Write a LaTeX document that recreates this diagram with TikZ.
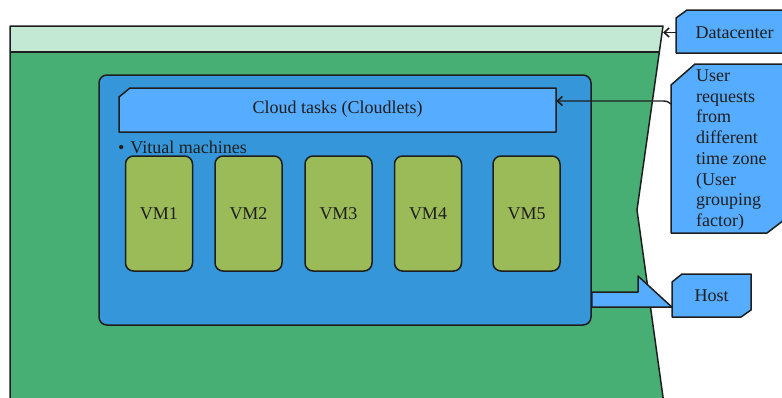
\documentclass[tikz,border=0pt]{standalone}
\usepackage{fontspec}
\setmainfont{Liberation Serif}
\usetikzlibrary{calc,arrows.meta}
\definecolor{dcgreen}{RGB}{71,175,116}
\definecolor{dclight}{RGB}{195,232,212}
\definecolor{hostblue}{RGB}{53,151,217}
\definecolor{lightblue}{RGB}{86,172,255}
\definecolor{vmgreen}{RGB}{155,187,89}
\definecolor{ink}{RGB}{30,30,30}
\begin{document}
\begin{tikzpicture}[x=1pt,y=-1pt,
  outline/.style={draw=ink, line width=1.5pt, line join=round},
  txt/.style={font=\fontsize{18}{20.7}\selectfont, text=ink},
  boxnode/.style={rectangle, inner sep=0pt, txt},
  vmbox/.style={boxnode, outline, fill=vmgreen, rounded corners=8pt, minimum width=67pt, minimum height=115pt},
  arr/.style={draw=ink, line width=1.4pt, -{Straight Barb[length=5pt,width=9pt,line width=1.6pt]}},
]
\useasboundingbox (0,0) rectangle (782,397);
\clip (0,0) rectangle (782,397);

% datacenter
\fill[dcgreen] (10,52) -- (659.3,52) -- (637,210) -- (663.4,400) -- (10,400) -- cycle;
\fill[dclight] (10,26) -- (663,26) -- (659.3,52) -- (10,52) -- cycle;
\draw[outline] (10,400) -- (10,26) -- (663,26) -- (637,210) -- (663.4,400);
\draw[outline] (10,52) -- (659.3,52);
\coordinate (dcedge) at (663,26);

% host box
\node[outline, fill=hostblue, rounded corners=8pt, minimum width=492pt, minimum height=250pt, inner sep=0pt] (host) at (345,200) {};

% cloudlets
\path[outline, fill=lightblue] (130,88) -- (556,88) -- (556,132) -- (119,132) -- (119,97) -- cycle;
\node[boxnode, minimum width=437pt, minimum height=44pt] (cloud) at (337.5,109) {Cloud tasks (Cloudlets)};

% VM label
\node[txt, anchor=west, inner sep=0pt] (vmlabel) at (118,147) {\textbullet\hspace{6pt}Vitual machines};

% VMs
\node[vmbox] (vm1) at (159,213.5) {VM1};
\node[vmbox] (vm2) at (248.5,213.5) {VM2};
\node[vmbox] (vm3) at (338.5,213.5) {VM3};
\node[vmbox] (vm4) at (428,213.5) {VM4};
\node[vmbox] (vm5) at (526.5,213.5) {VM5};

% Datacenter callout
\path[outline, fill=lightblue] (687,10) -- (800,10) -- (800,53) -- (676,53) -- (676,18) -- cycle;
\node[boxnode, minimum width=117pt, minimum height=43pt] (dcbox) at (734.5,32.5) {Datacenter};
\draw[arr] (dcbox.west) -- (dcbox.west -| dcedge);

% User requests callout
\path[outline, fill=lightblue] (695,64) -- (790,64) -- (790,226) -- (784,220) -- (767,233) -- (671,233) -- (671,85) -- cycle;
\node[txt, align=left, anchor=west, inner xsep=25pt, inner ysep=0pt] (ureq) at (671,150)
  {User\\requests\\from\\different\\time zone\\(User\\grouping\\factor)};
\coordinate (ureqport) at ($(ureq.west)+(0,-46)$);
\draw[arr] (ureqport) .. controls (667,101) .. (659,101) -- (cloud.east |- 0,101);

% Host callout
\path[outline, fill=lightblue] (682,274) -- (751,274) -- (751,310) -- (741,317) -- (672,317) -- (672,282) -- cycle;
\node[boxnode, minimum width=79pt, minimum height=43pt] (hostlbl) at (711.5,296) {Host};
\path[outline, fill=lightblue] (host.east |- 0,292) -- (638,292) -- (638,276) -- (hostlbl.west |- 0,307) -- (host.east |- 0,307) -- cycle;
\end{tikzpicture}
\end{document}
